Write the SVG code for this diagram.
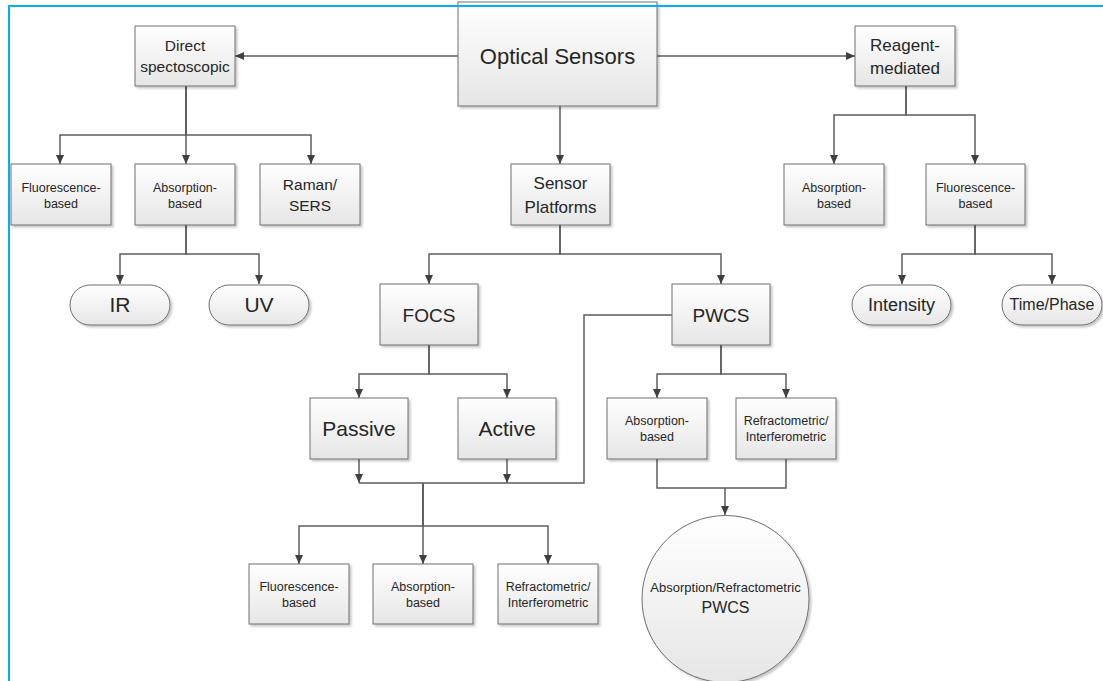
<svg xmlns="http://www.w3.org/2000/svg" width="1103" height="681" viewBox="0 0 1103 681">
<style>
.box{fill:url(#g);stroke:#6e6e6e;stroke-width:1;filter:url(#sh)}
.t{font-family:"Liberation Sans",Arial,sans-serif;fill:#262626;text-anchor:middle}
.c{fill:none;stroke:#5e5e5e;stroke-width:1.5}
.a{marker-end:url(#ar)}
</style>
<defs>
<linearGradient id="g" x1="0" y1="0" x2="0" y2="1">
<stop offset="0" stop-color="#ffffff"/>
<stop offset="1" stop-color="#e6e6e6"/>
</linearGradient>
<filter id="sh" x="-10%" y="-10%" width="130%" height="130%">
<feDropShadow dx="2" dy="2" stdDeviation="1" flood-color="#000" flood-opacity="0.22"/>
</filter>
<marker id="ar" markerUnits="userSpaceOnUse" markerWidth="9" markerHeight="8" refX="9" refY="4" orient="auto">
<path d="M0,0 L9,4 L0,8 z" fill="#404040"/>
</marker>
</defs>
<rect width="1103" height="681" fill="#ffffff"/>

<g id="connectors">
<path class="c a" d="M458,56 H235"/>
<path class="c a" d="M657,56 H855"/>
<path class="c a" d="M560,106 V164"/>
<path class="c a" d="M186,86 V135 H60 V164"/>
<path class="c a" d="M186,86 V164"/>
<path class="c a" d="M186,86 V135 H311 V164"/>
<path class="c a" d="M186,225 V254 H120 V284"/>
<path class="c a" d="M186,225 V254 H259 V284"/>
<path class="c a" d="M906,86 V115 H834 V164"/>
<path class="c a" d="M906,86 V115 H975 V164"/>
<path class="c a" d="M975,225 V254 H902 V284"/>
<path class="c a" d="M975,225 V254 H1052 V284"/>
<path class="c a" d="M560,225 V254 H429 V284"/>
<path class="c a" d="M560,225 V254 H721 V284"/>
<path class="c a" d="M429,345 V374 H359 V398"/>
<path class="c a" d="M429,345 V374 H507 V398"/>
<path class="c a" d="M721,345 V374 H657 V398"/>
<path class="c a" d="M721,345 V374 H786 V398"/>
<path class="c a" d="M359,459 V483"/>
<path class="c a" d="M507,459 V483"/>
<path class="c" d="M672,315 H584 V483 H359"/>
<path class="c a" d="M423,483 V526 H299 V564"/>
<path class="c a" d="M423,483 V564"/>
<path class="c a" d="M423,483 V526 H548 V564"/>
<path class="c" d="M657,459 V488 H786 V459"/>
<path class="c a" d="M725,488 V515"/>
</g>

<g id="optical-sensors">
<rect class="box" x="458" y="2" width="199" height="104"/>
<text class="t" x="557.5" y="64" font-size="22">Optical Sensors</text>
</g>
<g id="direct-spectoscopic">
<rect class="box" x="135" y="26" width="100" height="60"/>
<text class="t" x="185" y="51" font-size="15.5">Direct</text>
<text class="t" x="185" y="72" font-size="15.5">spectoscopic</text>
</g>
<g id="reagent-mediated">
<rect class="box" x="855" y="26" width="100" height="60"/>
<text class="t" x="905" y="51" font-size="17">Reagent-</text>
<text class="t" x="905" y="74" font-size="17">mediated</text>
</g>
<g id="sensor-platforms">
<rect class="box" x="511" y="164" width="99" height="61"/>
<text class="t" x="560.5" y="189" font-size="17">Sensor</text>
<text class="t" x="560.5" y="213" font-size="17">Platforms</text>
</g>
<g id="ds-fluorescence">
<rect class="box" x="11" y="164" width="100" height="61"/>
<text class="t" x="61" y="192" font-size="12.5">Fluorescence-</text>
<text class="t" x="61" y="208" font-size="12.5">based</text>
</g>
<g id="ds-absorption">
<rect class="box" x="135" y="164" width="100" height="61"/>
<text class="t" x="185" y="192" font-size="12.5">Absorption-</text>
<text class="t" x="185" y="208" font-size="12.5">based</text>
</g>
<g id="raman-sers">
<rect class="box" x="260" y="164" width="100" height="61"/>
<text class="t" x="310" y="190" font-size="15.5">Raman/</text>
<text class="t" x="310" y="211" font-size="15.5">SERS</text>
</g>
<g id="ir">
<rect class="box" x="70" y="285" width="100" height="40" rx="20"/>
<text class="t" x="120" y="312" font-size="21">IR</text>
</g>
<g id="uv">
<rect class="box" x="209" y="285" width="100" height="40" rx="20"/>
<text class="t" x="259" y="312" font-size="21">UV</text>
</g>
<g id="rm-absorption">
<rect class="box" x="784" y="164" width="100" height="61"/>
<text class="t" x="834" y="192" font-size="12.5">Absorption-</text>
<text class="t" x="834" y="208" font-size="12.5">based</text>
</g>
<g id="rm-fluorescence">
<rect class="box" x="926" y="164" width="99" height="61"/>
<text class="t" x="975.5" y="192" font-size="12.5">Fluorescence-</text>
<text class="t" x="975.5" y="208" font-size="12.5">based</text>
</g>
<g id="intensity">
<rect class="box" x="852" y="285" width="99" height="40" rx="20"/>
<text class="t" x="901.5" y="311" font-size="18">Intensity</text>
</g>
<g id="time-phase">
<rect class="box" x="1002" y="285" width="100" height="40" rx="20"/>
<text class="t" x="1052" y="310" font-size="16">Time/Phase</text>
</g>
<g id="focs">
<rect class="box" x="380" y="284" width="98" height="61"/>
<text class="t" x="429" y="322" font-size="19">FOCS</text>
</g>
<g id="pwcs">
<rect class="box" x="672" y="284" width="98" height="61"/>
<text class="t" x="721" y="322" font-size="19">PWCS</text>
</g>
<g id="passive">
<rect class="box" x="310" y="398" width="98" height="61"/>
<text class="t" x="359" y="436" font-size="21">Passive</text>
</g>
<g id="active">
<rect class="box" x="458" y="398" width="98" height="61"/>
<text class="t" x="507" y="436" font-size="21">Active</text>
</g>
<g id="pw-absorption">
<rect class="box" x="607" y="398" width="100" height="61"/>
<text class="t" x="657" y="425" font-size="12.5">Absorption-</text>
<text class="t" x="657" y="441" font-size="12.5">based</text>
</g>
<g id="pw-refractometric">
<rect class="box" x="736" y="398" width="100" height="61"/>
<text class="t" x="786" y="425" font-size="12.5">Refractometric/</text>
<text class="t" x="786" y="441" font-size="12.5">Interferometric</text>
</g>
<g id="fb-fluorescence">
<rect class="box" x="249" y="564" width="100" height="60"/>
<text class="t" x="299" y="591" font-size="12.5">Fluorescence-</text>
<text class="t" x="299" y="607" font-size="12.5">based</text>
</g>
<g id="fb-absorption">
<rect class="box" x="373" y="564" width="100" height="60"/>
<text class="t" x="423" y="591" font-size="12.5">Absorption-</text>
<text class="t" x="423" y="607" font-size="12.5">based</text>
</g>
<g id="fb-refractometric">
<rect class="box" x="498" y="564" width="100" height="60"/>
<text class="t" x="548" y="591" font-size="12.5">Refractometric/</text>
<text class="t" x="548" y="607" font-size="12.5">Interferometric</text>
</g>
<g id="abs-refr-pwcs">
<circle class="box" cx="725.5" cy="599" r="83.5"/>
<text class="t" x="725.5" y="592" font-size="13">Absorption/Refractometric</text>
<text class="t" x="725.5" y="613" font-size="16">PWCS</text>
</g>

<path d="M9,681 V6 H1103" fill="none" stroke="#00b0f0" stroke-width="2"/>
</svg>
